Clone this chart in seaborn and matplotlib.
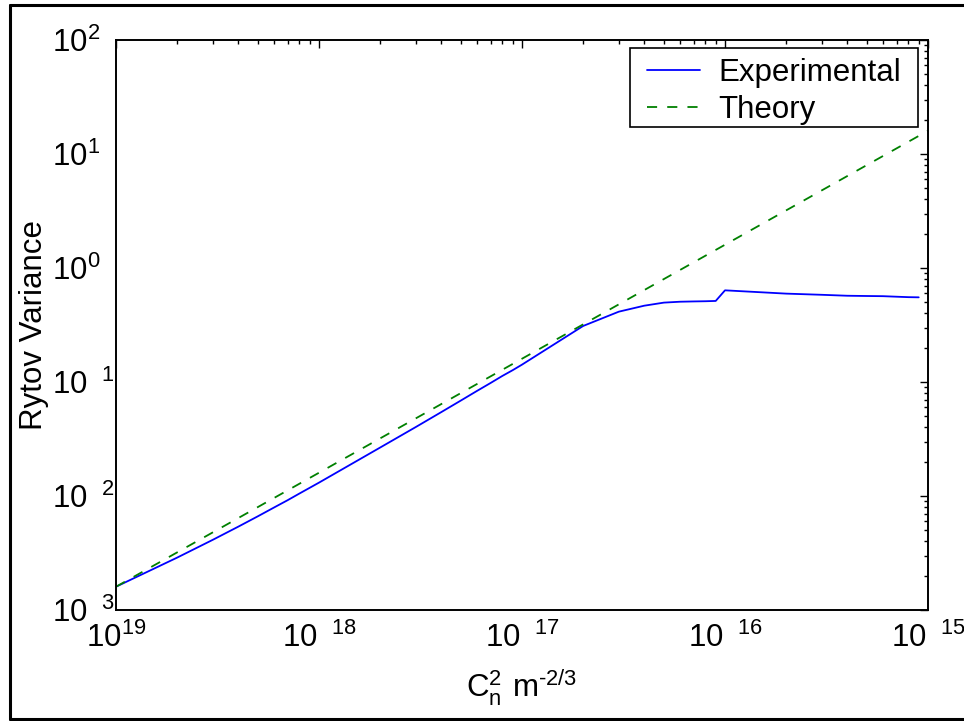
import numpy as np
import pandas as pd
import matplotlib
matplotlib.use("Agg")
import matplotlib.pyplot as plt
import matplotlib.ticker as mticker
from matplotlib.lines import Line2D
from matplotlib.path import Path
import seaborn as sns

# ---- data ----
cn2 = [1e-19, 2e-19, 3e-19, 4e-19, 5e-19, 6e-19, 7e-19, 8e-19, 9e-19,
       1e-18, 2e-18, 3e-18, 4e-18, 5e-18, 6e-18, 7e-18, 8e-18, 9e-18,
       1e-17, 2e-17, 3e-17, 4e-17, 5e-17, 6e-17, 7e-17, 8e-17, 9e-17,
       1e-16, 2e-16, 3e-16, 4e-16, 5e-16, 6e-16, 7e-16, 8e-16, 9e-16]
experimental = [1.60e-3, 2.88e-3, 4.13e-3, 5.38e-3, 6.64e-3, 7.92e-3, 9.18e-3, 1.05e-2, 1.18e-2,
                1.31e-2, 2.66e-2, 4.03e-2, 5.44e-2, 6.88e-2, 8.35e-2, 9.80e-2, 0.113, 0.127,
                0.142, 0.310, 0.414, 0.467, 0.497, 0.506, 0.509, 0.511, 0.514,
                0.637, 0.596, 0.582, 0.571, 0.568, 0.566, 0.560, 0.555, 0.553]
theory_x = [1e-19, 1e-18, 1e-17, 1e-16, 1e-15]
theory = [1.6e-3, 1.6e-2, 1.6e-1, 1.6, 16.0]

xtick_vals = [1e-19, 1e-18, 1e-17, 1e-16, 1e-15]
xtick_labels = [r"$\mathregular{10^{19}\ }$", r"$\mathregular{10^{\ \ 18}}$",
                r"$\mathregular{10^{\ \ 17}}$", r"$\mathregular{10^{\ \ 16}}$",
                r"$\mathregular{10^{\ \ 15}}$"]
ytick_vals = [1e-3, 1e-2, 1e-1, 1e0, 1e1, 1e2]
ytick_labels = [r"$\mathregular{10^{\ \ 3}}$", r"$\mathregular{10^{\ \ 2}}$",
                r"$\mathregular{10^{\ \ 1}}$", r"$\mathregular{10^{0}}$",
                r"$\mathregular{10^{1}}$", r"$\mathregular{10^{2}}$"]

sns.set_style("white")
plt.rcParams["font.family"] = ["Liberation Sans", "DejaVu Sans"]
plt.rcParams["mathtext.fontset"] = "custom"
plt.rcParams["mathtext.rm"] = "Liberation Sans"
for k in ["text.color", "axes.labelcolor", "xtick.color", "ytick.color", "axes.edgecolor"]:
    plt.rcParams[k] = "black"
FS = 22.5

fig = plt.figure(figsize=(9.64, 7.21), dpi=100)
ax = fig.add_axes([116/964, 1-610/721, (928-116)/964, (610-40)/721])

df_exp = pd.DataFrame({"x": cn2, "y": experimental})
df_th = pd.DataFrame({"x": theory_x, "y": theory})
sns.lineplot(data=df_exp, x="x", y="y", ax=ax, color=(0, 0, 1), lw=1.3,
             label="Experimental", estimator=None, sort=False)
sns.lineplot(data=df_th, x="x", y="y", ax=ax, color=(0, 0.5, 0), lw=1.3,
             label="Theory", estimator=None, sort=False, linestyle=(0, (5.6, 5.6)))

ax.set_xscale("log")
ax.set_yscale("log")
ax.set_xlim(1e-19, 1e-15)
ax.set_ylim(1e-3, 1e2)

ax.xaxis.set_major_locator(mticker.FixedLocator(xtick_vals))
ax.xaxis.set_major_formatter(mticker.FixedFormatter(xtick_labels))
ax.yaxis.set_major_locator(mticker.FixedLocator(ytick_vals))
ax.yaxis.set_major_formatter(mticker.FixedFormatter(ytick_labels))
ax.xaxis.set_minor_locator(mticker.LogLocator(base=10, subs=np.arange(2, 10), numticks=20))
ax.yaxis.set_minor_locator(mticker.LogLocator(base=10, subs=np.arange(2, 10), numticks=20))
ax.xaxis.set_minor_formatter(mticker.NullFormatter())
ax.yaxis.set_minor_formatter(mticker.NullFormatter())

ax.tick_params(which="both", direction="in", top=True, right=True, color="black",
               labelsize=FS, width=1.0, labelcolor="black")
ax.tick_params(which="major", length=6)
ax.tick_params(which="minor", length=3)
ax.tick_params(axis="x", which="major", pad=9)
ax.tick_params(axis="y", which="major", pad=46)
for lab in ax.get_yticklabels():
    lab.set_horizontalalignment("left")

for s in ax.spines.values():
    s.set_color("black")
    s.set_linewidth(1.4)

ax.set_xlabel("$\\mathregular{C_n^2\\ m^{\u20102/3}}$", fontsize=FS, labelpad=10)
ax.set_ylabel("Rytov Variance", fontsize=FS, labelpad=2.5)

leg = ax.legend(loc="upper right", bbox_to_anchor=((906-116)/812, (610-53)/570),
                fontsize=FS, frameon=True, fancybox=False,
                framealpha=1, edgecolor="black", borderaxespad=0,
                handlelength=1.7, handletextpad=0.6, labelspacing=0.24,
                borderpad=0.15)


def wide_box(x0, y0, width, height, mutation_size):
    hx = 0.39 * mutation_size
    bottom = y0 + 0.10 * mutation_size
    top = y0 + height + 0.16 * mutation_size
    left = x0 - hx
    right = x0 + width + hx
    return Path([(left, bottom), (right, bottom), (right, top), (left, top), (left, bottom)],
                [Path.MOVETO, Path.LINETO, Path.LINETO, Path.LINETO, Path.CLOSEPOLY])


leg.get_frame().set_boxstyle(wide_box)
leg.get_frame().set_linewidth(1.2)

# figure border
for xs, ys in [([10/964, 10/964], [1-718.5/721, 1-4.5/721]),
               ([10/964, 1.01], [1-4.5/721, 1-4.5/721]),
               ([10/964, 1.01], [1-718.5/721, 1-718.5/721])]:
    fig.add_artist(Line2D(xs, ys, transform=fig.transFigure, color="black", lw=2.2))

fig.savefig("out.png", dpi=100, facecolor="white")
